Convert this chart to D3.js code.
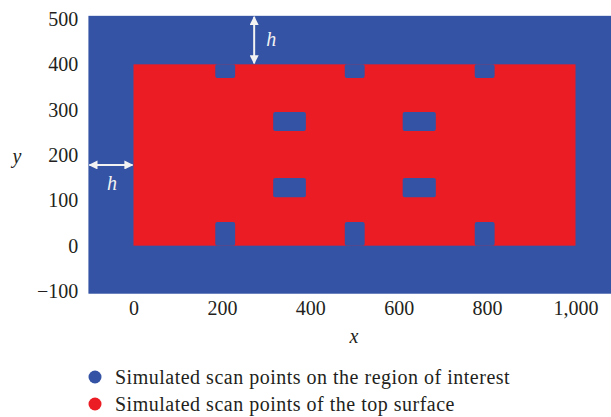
<!DOCTYPE html>
<html>
<head>
<meta charset="utf-8">
<script src="https://cdn.jsdelivr.net/npm/d3@7"></script>
<style>
  body { margin: 0; background: #fff; }
  svg text { font-family: "Liberation Serif", "DejaVu Serif", serif; fill: #231f20; }
</style>
</head>
<body>
<svg id="grafiek" width="611" height="417"></svg>
<script>
// ticks
var xTicks = [0, 200, 400, 600, 800, 1000];
var yTicks = [-100, 0, 100, 200, 300, 400, 500];

// region of interest (blue) : x0, x1, y0, y1
var regioX = [-102, 1110];
var regioY = [-106, 507];

// top surface (red) outline
var oppX = [0, 1000];
var oppY = [0, 400];

// notches cut out of the top surface (x0, x1)
var inkepingX = [[185, 230], [478, 523], [772, 817]];
var inkepingBovenY = [370, 400];
var inkepingOnderY = [0, 52];

// holes in the top surface
var gatX = [[316, 390], [609, 684]];
var gatY = [[107, 149], [253, 295]];

// legend
var legendaTekst = ["Simulated scan points on the region of interest", "Simulated scan points of the top surface"];
var kleuren = ["#3453a4", "#ec1c24"];

//schalen
var x = d3.scaleLinear().domain([0, 1000]).range([133.5, 575.5]);
var y = d3.scaleLinear().domain([-100, 500]).range([291, 19]);

var svg = d3.select('#grafiek');

svg.append('defs').append('clipPath').attr('id', 'clip')
    .append('rect').attr('x', 0).attr('y', 0).attr('width', 611).attr('height', 300);

var plot = svg.append('g').attr('clip-path', 'url(#clip)');

// blauw gebied
plot.append('rect')
    .attr('x', x(regioX[0]))
    .attr('y', y(regioY[1]))
    .attr('width', x(regioX[1]) - x(regioX[0]))
    .attr('height', y(regioY[0]) - y(regioY[1]))
    .attr('fill', kleuren[0]);

// rood gebied
plot.append('rect')
    .attr('x', x(oppX[0]))
    .attr('y', y(oppY[1]))
    .attr('width', x(oppX[1]) - x(oppX[0]))
    .attr('height', y(oppY[0]) - y(oppY[1]))
    .attr('fill', kleuren[1]);

// inkepingen boven en onder
[inkepingBovenY, inkepingOnderY].forEach(function (ry) {
    plot.selectAll(null)
        .data(inkepingX)
        .join('rect')
        .attr('x', function (d) { return x(d[0]); })
        .attr('y', y(ry[1]))
        .attr('width', function (d) { return x(d[1]) - x(d[0]); })
        .attr('height', y(ry[0]) - y(ry[1]))
        .attr('rx', 2)
        .attr('fill', kleuren[0]);
});

// gaten
var gaten = [];
gatX.forEach(function (gx) {
    gatY.forEach(function (gy) { gaten.push([gx, gy]); });
});
plot.selectAll(null)
    .data(gaten)
    .join('rect')
    .attr('x', function (d) { return x(d[0][0]); })
    .attr('y', function (d) { return y(d[1][1]); })
    .attr('width', function (d) { return x(d[0][1]) - x(d[0][0]); })
    .attr('height', function (d) { return y(d[1][0]) - y(d[1][1]); })
    .attr('rx', 2)
    .attr('fill', kleuren[0]);

// assen
var xAs = svg.append('g')
    .attr('transform', 'translate(0,' + y(-100) + ')')
    .call(d3.axisBottom(x).tickValues(xTicks).tickSize(0).tickPadding(10).tickFormat(d3.format(',')));
var yAs = svg.append('g')
    .attr('transform', 'translate(' + x(-100) + ',0)')
    .call(d3.axisLeft(y).tickValues(yTicks).tickSize(0).tickPadding(11).tickFormat(d3.format(',')));
[xAs, yAs].forEach(function (a) {
    a.select('.domain').remove();
    a.selectAll('text').attr('font-size', 20).attr('font-family', '"Liberation Serif", serif').attr('fill', '#231f20');
});

svg.append('text').attr('x', 354).attr('y', 343).attr('text-anchor', 'middle')
    .attr('font-size', 20).attr('font-style', 'italic').text('x');
svg.append('text').attr('x', 17).attr('y', 163).attr('text-anchor', 'middle')
    .attr('font-size', 20).attr('font-style', 'italic').text('y');

// pijlen h
var defs = svg.select('defs');
defs.append('marker').attr('id', 'pijl')
    .attr('viewBox', '0 0 10 10').attr('refX', 9).attr('refY', 5)
    .attr('markerWidth', 4.5).attr('markerHeight', 4.5).attr('orient', 'auto-start-reverse')
    .append('path').attr('d', 'M0,0 L10,5 L0,10 Z').attr('fill', '#f2f2f2');

svg.append('line')
    .attr('x1', x(273)).attr('x2', x(273))
    .attr('y1', y(regioY[1]) + 1).attr('y2', y(oppY[1]) - 1)
    .attr('stroke', '#f2f2f2').attr('stroke-width', 2)
    .attr('marker-start', 'url(#pijl)').attr('marker-end', 'url(#pijl)');
svg.append('text').attr('x', x(273) + 12).attr('y', 46)
    .attr('font-size', 20).attr('font-style', 'italic').style('fill', '#f2f2f2').text('h');

svg.append('line')
    .attr('x1', x(regioX[0]) + 1).attr('x2', x(oppX[0]) - 1)
    .attr('y1', y(178)).attr('y2', y(178))
    .attr('stroke', '#f2f2f2').attr('stroke-width', 2)
    .attr('marker-start', 'url(#pijl)').attr('marker-end', 'url(#pijl)');
svg.append('text').attr('x', 112).attr('y', 190).attr('text-anchor', 'middle')
    .attr('font-size', 20).attr('font-style', 'italic').style('fill', '#f2f2f2').text('h');

// legenda
var legenda = svg.selectAll('.legenda')
    .data(legendaTekst)
    .join('g')
    .attr('class', 'legenda')
    .attr('transform', function (d, i) { return 'translate(95,' + (377 + i * 27) + ')'; });
legenda.append('circle').attr('r', 6.5).attr('fill', function (d, i) { return kleuren[i]; });
legenda.append('text').attr('x', 20).attr('dy', '0.35em').attr('font-size', 20)
    .attr('letter-spacing', 0.5)
    .text(function (d) { return d; });
</script>
</body>
</html>
